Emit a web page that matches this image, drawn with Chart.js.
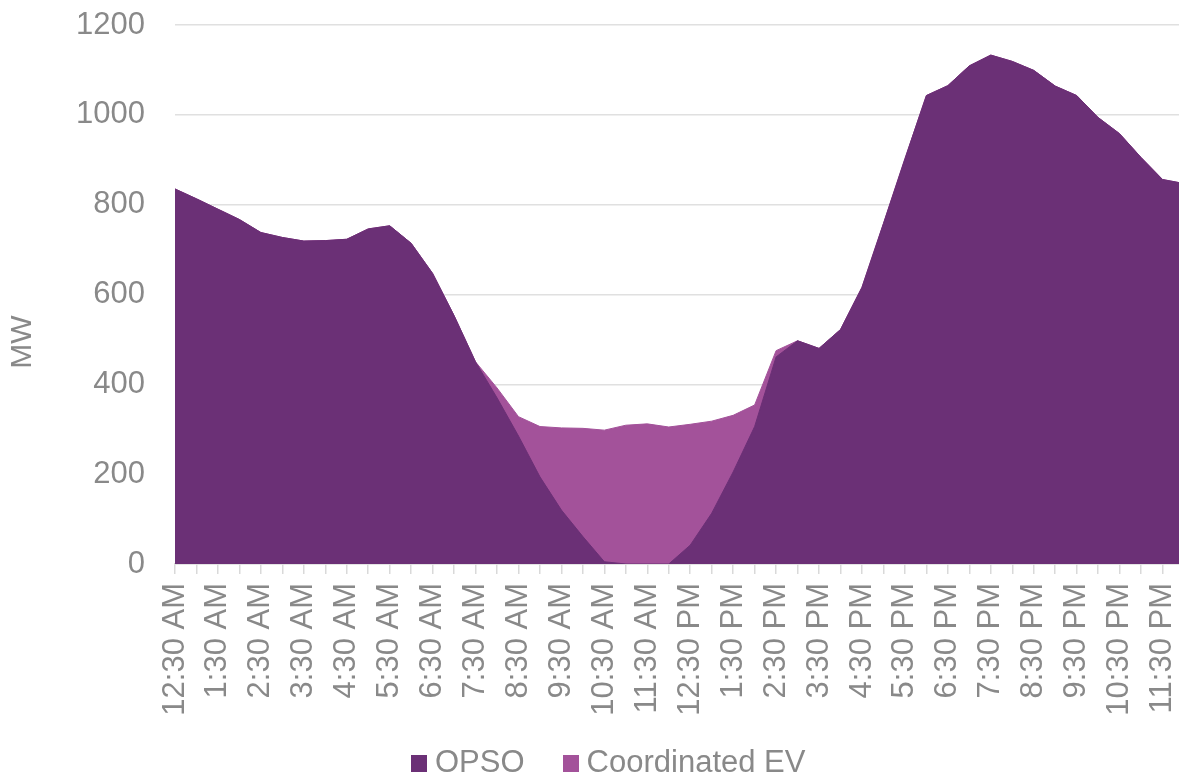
<!DOCTYPE html>
<html>
<head>
<meta charset="utf-8">
<title>OPSO and Coordinated EV load</title>
<script src="https://cdn.jsdelivr.net/npm/chart.js@4.4.1/dist/chart.umd.min.js"></script>
<style>
  html, body { margin: 0; padding: 0; background: #ffffff; overflow: hidden; }
  #wrap { position: relative; width: 1184px; height: 781px; }
  #legend {
    position: absolute; left: 411px; top: 744px;
    display: flex; align-items: center;
    font-family: 'Liberation Sans', Arial, sans-serif; font-size: 31px; color: #898989;
    white-space: nowrap;
  }
  .item { display: flex; align-items: center; margin-right: 38px; }
  .swatch { width: 16px; height: 17px; margin-right: 8px; margin-top: 2px; }
</style>
</head>
<body>
<div id="wrap"><canvas id="chart"></canvas></div>
<div id="legend"></div>
<script>
// Half-hourly time slots, 12:30 AM through 12:00 AM
const timeLabels = [
  '12:30 AM', '1:00 AM', '1:30 AM', '2:00 AM', '2:30 AM', '3:00 AM', '3:30 AM', '4:00 AM',
  '4:30 AM', '5:00 AM', '5:30 AM', '6:00 AM', '6:30 AM', '7:00 AM', '7:30 AM', '8:00 AM',
  '8:30 AM', '9:00 AM', '9:30 AM', '10:00 AM', '10:30 AM', '11:00 AM', '11:30 AM', '12:00 PM',
  '12:30 PM', '1:00 PM', '1:30 PM', '2:00 PM', '2:30 PM', '3:00 PM', '3:30 PM', '4:00 PM',
  '4:30 PM', '5:00 PM', '5:30 PM', '6:00 PM', '6:30 PM', '7:00 PM', '7:30 PM', '8:00 PM',
  '8:30 PM', '9:00 PM', '9:30 PM', '10:00 PM', '10:30 PM', '11:00 PM', '11:30 PM', '12:00 AM'
];

// Load in MW
const opso = [
  835, 813, 790, 767, 738, 727, 719, 720,
  723, 746, 753, 714, 647, 553, 450, 370,
  285, 194, 120, 61, 5, 0, 0, 0,
  42, 113, 205, 306, 461, 497, 480, 522,
  616, 758, 902, 1043, 1065, 1109, 1133, 1119,
  1099, 1064, 1043, 994, 958, 905, 856, 847
];

const coordinatedEv = [
  835, 813, 790, 767, 738, 727, 719, 720,
  723, 746, 753, 714, 647, 553, 450, 392,
  328, 306, 303, 302, 298, 309, 312, 305,
  311, 318, 331, 354, 475, 497, 480, 522,
  616, 758, 902, 1043, 1065, 1109, 1133, 1119,
  1099, 1064, 1043, 994, 958, 905, 856, 847
];

const yTicks = [0, 200, 400, 600, 800, 1000, 1200];

const seriesNames = ['OPSO', 'Coordinated EV'];
const seriesColors = ['#6B3076', '#A3529A'];

const FONT = "'Liberation Sans', Arial, sans-serif";
const TEXT = '#898989';
const GRID = '#e0e0e0';

// Vertical axis title
const axisTitle = {
  id: 'axisTitle',
  afterDraw(chart) {
    const ctx = chart.ctx;
    ctx.save();
    ctx.translate(22.5, 342);
    ctx.rotate(-Math.PI / 2);
    ctx.font = '30px ' + FONT;
    ctx.fillStyle = TEXT;
    ctx.textAlign = 'center';
    ctx.textBaseline = 'middle';
    ctx.fillText('MW', 0, 0);
    ctx.restore();
  }
};

function noPadding(scale) {
  scale.paddingLeft = 0;
  scale.paddingRight = 0;
  scale.paddingTop = 0;
  scale.paddingBottom = 0;
}

const chart = new Chart(document.getElementById('chart'), {
  type: 'line',
  data: {
    labels: timeLabels,
    datasets: [
      {
        label: seriesNames[0],
        data: opso,
        backgroundColor: seriesColors[0],
        borderColor: seriesColors[0],
        borderWidth: 1,
        fill: 'origin',
        tension: 0,
        pointRadius: 0
      },
      {
        label: seriesNames[1],
        data: coordinatedEv,
        backgroundColor: seriesColors[1],
        borderColor: seriesColors[1],
        borderWidth: 1,
        fill: 'origin',
        tension: 0,
        pointRadius: 0
      }
    ]
  },
  options: {
    responsive: true,
    maintainAspectRatio: false,
    animation: false,
    layout: { padding: { top: 25, right: 0, bottom: 0, left: 0 } },
    plugins: {
      legend: { display: false },
      tooltip: { enabled: false }
    },
    scales: {
      x: {
        offset: false,
        afterFit(scale) { scale.height = 217; noPadding(scale); },
        grid: {
          display: true,
          drawOnChartArea: false,
          drawTicks: true,
          tickLength: 10,
          color: '#d9d9d9',
          lineWidth: 1.5
        },
        border: { display: true, color: '#d9d9d9', width: 1.5 },
        ticks: {
          autoSkip: false,
          minRotation: 90,
          maxRotation: 90,
          padding: 9,
          color: TEXT,
          font: { family: FONT, size: 31 },
          callback(value, index) {
            return index % 2 === 0 ? this.getLabelForValue(value) : '';
          }
        }
      },
      y: {
        min: yTicks[0],
        max: yTicks[yTicks.length - 1],
        afterFit(scale) { scale.width = 175; noPadding(scale); },
        afterBuildTicks(scale) { scale.ticks = yTicks.map(v => ({ value: v })); },
        grid: { color: GRID, lineWidth: 1.5, drawTicks: false },
        border: { display: false },
        ticks: {
          padding: 30,
          color: TEXT,
          font: { family: FONT, size: 31 },
          callback(value) { return String(value); }
        }
      }
    }
  },
  plugins: [axisTitle]
});

// Legend built from the chart's datasets
const legend = document.getElementById('legend');
chart.data.datasets.forEach(ds => {
  const item = document.createElement('div');
  item.className = 'item';
  const sw = document.createElement('span');
  sw.className = 'swatch';
  sw.style.background = ds.backgroundColor;
  const txt = document.createElement('span');
  txt.textContent = ds.label;
  item.appendChild(sw);
  item.appendChild(txt);
  legend.appendChild(item);
});
</script>
</body>
</html>
